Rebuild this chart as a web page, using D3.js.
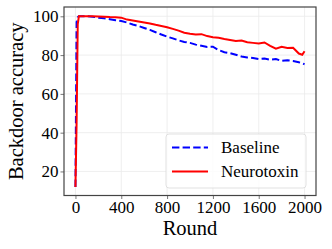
<!DOCTYPE html>
<html>
<head>
<meta charset="utf-8">
<script src="https://cdn.jsdelivr.net/npm/d3@7"></script>
<style>
  body { margin: 0; background: white; }
  text { font-family: "Liberation Serif", "Times New Roman", serif; fill: black; }
</style>
</head>
<body>
<div id="chart"></div>
<script>
const rounds = [0, 10, 20, 30, 40, 50, 100, 150, 200, 250, 300, 350, 400, 450, 500, 550, 600, 650, 700, 750,
    800, 850, 900, 950, 1000, 1050, 1100, 1150, 1200, 1250, 1300, 1350, 1400, 1450, 1500, 1550, 1600, 1650,
    1700, 1750, 1800, 1850, 1900, 1950, 1980, 2000];
const baseline = [12, 97, 99.5, 100, 100, 100, 100, 99.8, 99.3, 99, 98.5, 98, 97.6, 96.8, 95.8, 95, 94, 93, 91.8, 90.6,
    89.5, 88.6, 87.6, 86.8, 86.3, 85.4, 84.8, 84.2, 84.3, 82.6, 81.5, 81, 80.2, 79.3, 78.8, 78.5, 78, 78.2,
    77.6, 78, 77, 77.3, 77, 76.3, 75.8, 75.3];
const neurotoxin = [12, 45, 96, 100, 100, 100, 100, 100, 99.9, 99.8, 99.6, 99.5, 99.3, 98.3, 97.8, 97.3, 96.8, 96.3, 95.6, 95,
    94.4, 93.5, 92.6, 91.5, 91, 90.6, 90.8, 89.8, 89.2, 88.9, 88.3, 87.8, 87.3, 87.5, 86.6, 86.3, 86, 86.5,
    84.8, 83.3, 84.3, 83.7, 83.8, 80.8, 80.2, 82];
const xTicks = [0, 400, 800, 1200, 1600, 2000];
const yTicks = [20, 40, 60, 80, 100];

const width = 332, height = 249;
const plotLeft = 64, plotRight = 316, plotTop = 7, plotBottom = 195.5;

const svg = d3.select("#chart").append("svg")
    .attr("width", width)
    .attr("height", height);

const x = d3.scaleLinear().domain([-100, 2100]).range([plotLeft, plotRight]);
const y = d3.scaleLinear().domain([7.6, 104.8]).range([plotBottom, plotTop]);

// grid
svg.append("g").selectAll("line")
    .data(xTicks).enter().append("line")
    .attr("x1", d => x(d)).attr("x2", d => x(d))
    .attr("y1", plotTop).attr("y2", plotBottom)
    .attr("stroke", "#ebebeb").attr("stroke-width", 0.8);
svg.append("g").selectAll("line")
    .data(yTicks).enter().append("line")
    .attr("x1", plotLeft).attr("x2", plotRight)
    .attr("y1", d => y(d)).attr("y2", d => y(d))
    .attr("stroke", "#ebebeb").attr("stroke-width", 0.8);

// lines
const line = series => d3.line()
    .x((d, i) => x(rounds[i]))
    .y(d => y(d))(series);

svg.append("path")
    .attr("d", line(baseline))
    .attr("fill", "none")
    .attr("stroke", "#0000ff")
    .attr("stroke-width", 2)
    .attr("stroke-dasharray", "7.4,3.2");

svg.append("path")
    .attr("d", line(neurotoxin))
    .attr("fill", "none")
    .attr("stroke", "#ff0000")
    .attr("stroke-width", 2);

// axes
const xAxis = svg.append("g")
    .attr("transform", `translate(0,${plotBottom})`)
    .call(d3.axisBottom(x).tickValues(xTicks).tickFormat(d3.format("d")).tickSize(3.5).tickPadding(2));
const yAxis = svg.append("g")
    .attr("transform", `translate(${plotLeft},0)`)
    .call(d3.axisLeft(y).tickValues(yTicks).tickFormat(d3.format("d")).tickSize(3.5).tickPadding(2));

[xAxis, yAxis].forEach(g => {
    g.select(".domain").remove();
    g.selectAll("line").attr("stroke", "#555").attr("stroke-width", 0.8);
    g.selectAll("text").attr("font-size", "17px").attr("font-family", "Liberation Serif");
});

// frame
svg.append("rect")
    .attr("x", plotLeft).attr("y", plotTop)
    .attr("width", plotRight - plotLeft).attr("height", plotBottom - plotTop)
    .attr("fill", "none")
    .attr("stroke", "#444")
    .attr("stroke-width", 1.2);

// axis labels
svg.append("text")
    .attr("x", (plotLeft + plotRight) / 2)
    .attr("y", 235)
    .attr("text-anchor", "middle")
    .attr("font-size", "20.5px")
    .text("Round");

svg.append("text")
    .attr("transform", `translate(23,${(plotTop + plotBottom) / 2}) rotate(-90)`)
    .attr("text-anchor", "middle")
    .attr("font-size", "20.5px")
    .text("Backdoor accuracy");

// legend
const legend = svg.append("g");
legend.append("rect")
    .attr("x", 166).attr("y", 134)
    .attr("width", 140).attr("height", 54)
    .attr("rx", 3)
    .attr("fill", "white").attr("fill-opacity", 0.8)
    .attr("stroke", "#d9d9d9").attr("stroke-width", 0.8);

const entries = [
    { name: "Baseline", color: "#0000ff", dash: "7.4,3.2", ly: 147.5 },
    { name: "Neurotoxin", color: "#ff0000", dash: null, ly: 171.5 }
];
entries.forEach(e => {
    legend.append("line")
        .attr("x1", 172).attr("x2", 208)
        .attr("y1", e.ly).attr("y2", e.ly)
        .attr("stroke", e.color).attr("stroke-width", 2)
        .attr("stroke-dasharray", e.dash);
    legend.append("text")
        .attr("x", 221).attr("y", e.ly)
        .attr("dy", "0.35em")
        .attr("font-size", "17px")
        .text(e.name);
});
</script>
</body>
</html>
